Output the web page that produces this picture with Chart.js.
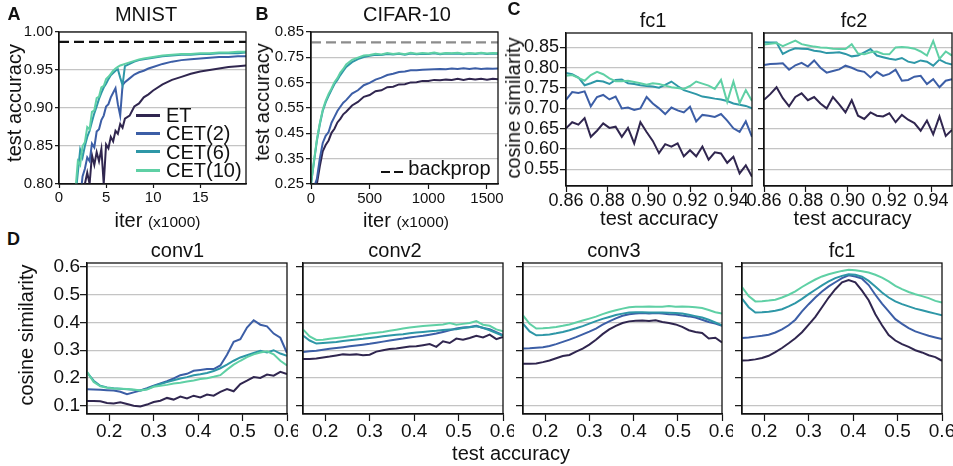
<!DOCTYPE html>
<html>
<head>
<meta charset="utf-8">
<script src="https://cdn.jsdelivr.net/npm/chart.js@4/dist/chart.umd.min.js"></script>
<style>
  html, body { margin: 0; padding: 0; background: #fff; }
  #fig { position: relative; width: 953px; height: 466px; overflow: hidden; font-family: 'Liberation Sans', Arial, sans-serif; color: #111; }
  .t { position: absolute; transform: translate(-50%, -50%); white-space: nowrap; line-height: 1; font-size: 20px; }
  .ty { position: absolute; transform: translate(-50%, -50%) rotate(-90deg); white-space: nowrap; line-height: 1; font-size: 20px; }
  .letter { font-weight: bold; font-size: 18px; }
  .leg { position: absolute; white-space: nowrap; line-height: 1; font-size: 20px; transform: translateY(-50%); }
  .swatch { position: absolute; height: 3px; }
</style>
</head>
<body>
<div id="fig"></div>
<script>
// ---- data ----
var seriesNames = ['ET', 'CET(2)', 'CET(6)', 'CET(10)'];
var seriesColors = ['#30264f', '#3c5ea6', '#2e97a7', '#5fd0a5'];

// A: MNIST, iterations (x1000)
var mnistIter = [1.8, 2.0, 2.25, 2.5, 2.75, 3.0, 3.25, 3.5, 3.75, 4.0, 4.25, 4.5, 4.75, 5.0, 5.25, 5.5, 5.75, 6.0, 6.25, 6.5, 6.75, 7.0, 7.5, 8.0, 8.5, 9.0, 9.5, 10, 11, 12, 13, 14, 15, 16, 17, 18, 19, 19.9];
var mnistET = [0.70, 0.72, 0.75, 0.77, 0.80, 0.815, 0.80, 0.838, 0.825, 0.842, 0.83, 0.846, 0.80, 0.852, 0.847, 0.862, 0.856, 0.870, 0.866, 0.879, 0.874, 0.886, 0.890, 0.902, 0.906, 0.914, 0.918, 0.923, 0.931, 0.937, 0.941, 0.945, 0.948, 0.950, 0.952, 0.954, 0.955, 0.956];
var mnistCET2 = [0.72, 0.75, 0.78, 0.81, 0.82, 0.835, 0.83, 0.853, 0.848, 0.869, 0.872, 0.884, 0.89, 0.902, 0.905, 0.914, 0.92, 0.926, 0.905, 0.89, 0.93, 0.934, 0.939, 0.944, 0.947, 0.949, 0.952, 0.954, 0.958, 0.961, 0.963, 0.964, 0.965, 0.966, 0.967, 0.967, 0.968, 0.968];
var mnistCET6 = [0.79, 0.815, 0.845, 0.835, 0.85, 0.862, 0.87, 0.882, 0.893, 0.902, 0.912, 0.92, 0.927, 0.932, 0.938, 0.943, 0.946, 0.949, 0.951, 0.94, 0.93, 0.955, 0.958, 0.961, 0.963, 0.964, 0.965, 0.966, 0.968, 0.969, 0.97, 0.97, 0.971, 0.971, 0.972, 0.972, 0.972, 0.973];
var mnistCET10 = [0.80, 0.83, 0.825, 0.85, 0.855, 0.875, 0.872, 0.895, 0.897, 0.913, 0.915, 0.927, 0.929, 0.938, 0.941, 0.945, 0.949, 0.952, 0.954, 0.956, 0.957, 0.958, 0.96, 0.962, 0.964, 0.965, 0.966, 0.967, 0.969, 0.970, 0.971, 0.971, 0.972, 0.972, 0.973, 0.973, 0.974, 0.974];
var mnistBackprop = 0.987;

// B: CIFAR-10, iterations (x1000)
var cifarIter = [0, 25, 50, 75, 100, 125, 150, 175, 200, 225, 250, 275, 300, 350, 400, 450, 500, 550, 600, 650, 700, 750, 800, 850, 900, 950, 1000, 1050, 1100, 1150, 1200, 1250, 1300, 1350, 1400, 1450, 1500, 1550, 1594];
var cifarET = [0.20, 0.22, 0.25, 0.32, 0.379, 0.404, 0.422, 0.452, 0.468, 0.493, 0.507, 0.525, 0.535, 0.560, 0.574, 0.594, 0.601, 0.616, 0.620, 0.632, 0.634, 0.643, 0.644, 0.651, 0.652, 0.657, 0.657, 0.661, 0.660, 0.662, 0.661, 0.665, 0.661, 0.665, 0.663, 0.665, 0.662, 0.665, 0.663];
var cifarCET2 = [0.22, 0.235, 0.27, 0.35, 0.412, 0.44, 0.455, 0.492, 0.515, 0.538, 0.555, 0.571, 0.581, 0.607, 0.620, 0.640, 0.649, 0.662, 0.670, 0.680, 0.685, 0.692, 0.694, 0.699, 0.699, 0.701, 0.702, 0.703, 0.704, 0.703, 0.706, 0.704, 0.707, 0.704, 0.707, 0.704, 0.706, 0.705, 0.706];
var cifarCET6 = [0.25, 0.335, 0.42, 0.485, 0.538, 0.572, 0.598, 0.622, 0.645, 0.661, 0.680, 0.696, 0.712, 0.731, 0.743, 0.751, 0.756, 0.760, 0.759, 0.763, 0.761, 0.764, 0.760, 0.765, 0.762, 0.764, 0.763, 0.766, 0.762, 0.765, 0.764, 0.765, 0.762, 0.765, 0.763, 0.766, 0.763, 0.765, 0.764];
var cifarCET10 = [0.25, 0.34, 0.425, 0.49, 0.543, 0.578, 0.606, 0.627, 0.652, 0.668, 0.690, 0.704, 0.722, 0.740, 0.749, 0.757, 0.759, 0.764, 0.761, 0.767, 0.763, 0.766, 0.762, 0.768, 0.764, 0.767, 0.765, 0.769, 0.764, 0.767, 0.766, 0.768, 0.764, 0.767, 0.765, 0.768, 0.765, 0.767, 0.766];
var cifarBackprop = 0.809;

// C: cosine similarity vs test accuracy (fc1, fc2)
var fcAcc = [0.860, 0.863, 0.866, 0.869, 0.872, 0.875, 0.878, 0.881, 0.884, 0.887, 0.890, 0.893, 0.896, 0.899, 0.902, 0.905, 0.908, 0.911, 0.914, 0.917, 0.920, 0.923, 0.926, 0.929, 0.932, 0.935, 0.938, 0.941, 0.944, 0.947, 0.950];
var fc1ET = [0.651, 0.666, 0.660, 0.676, 0.630, 0.645, 0.663, 0.652, 0.655, 0.630, 0.652, 0.614, 0.666, 0.642, 0.620, 0.590, 0.612, 0.606, 0.614, 0.582, 0.597, 0.582, 0.606, 0.574, 0.592, 0.589, 0.566, 0.581, 0.540, 0.560, 0.532];
var fc1CET2 = [0.721, 0.740, 0.738, 0.742, 0.705, 0.728, 0.733, 0.722, 0.729, 0.700, 0.702, 0.696, 0.700, 0.728, 0.712, 0.700, 0.686, 0.702, 0.695, 0.690, 0.704, 0.668, 0.684, 0.682, 0.679, 0.686, 0.670, 0.651, 0.642, 0.668, 0.630];
var fc1CET6 = [0.787, 0.784, 0.776, 0.757, 0.762, 0.768, 0.766, 0.760, 0.770, 0.771, 0.762, 0.760, 0.757, 0.755, 0.754, 0.751, 0.758, 0.766, 0.755, 0.745, 0.740, 0.735, 0.729, 0.727, 0.724, 0.722, 0.718, 0.712, 0.709, 0.706, 0.700];
var fc1CET10 = [0.780, 0.782, 0.775, 0.768, 0.782, 0.790, 0.784, 0.774, 0.767, 0.767, 0.768, 0.765, 0.762, 0.758, 0.762, 0.760, 0.756, 0.752, 0.750, 0.748, 0.755, 0.766, 0.761, 0.756, 0.748, 0.770, 0.716, 0.766, 0.713, 0.745, 0.718];
var fc2ET = [0.721, 0.735, 0.752, 0.725, 0.705, 0.728, 0.737, 0.720, 0.728, 0.712, 0.700, 0.728, 0.710, 0.690, 0.720, 0.682, 0.674, 0.690, 0.682, 0.680, 0.688, 0.666, 0.684, 0.672, 0.664, 0.645, 0.670, 0.636, 0.680, 0.632, 0.647];
var fc2CET2 = [0.807, 0.809, 0.810, 0.811, 0.795, 0.806, 0.812, 0.803, 0.818, 0.800, 0.788, 0.792, 0.796, 0.805, 0.800, 0.793, 0.790, 0.776, 0.790, 0.780, 0.785, 0.795, 0.768, 0.770, 0.778, 0.780, 0.760, 0.772, 0.752, 0.768, 0.772];
var fc2CET6 = [0.863, 0.862, 0.862, 0.834, 0.842, 0.848, 0.847, 0.846, 0.842, 0.840, 0.836, 0.837, 0.838, 0.834, 0.828, 0.830, 0.838, 0.846, 0.830, 0.826, 0.822, 0.820, 0.824, 0.815, 0.812, 0.818, 0.815, 0.805, 0.820, 0.812, 0.808];
var fc2CET10 = [0.857, 0.859, 0.861, 0.853, 0.860, 0.867, 0.858, 0.855, 0.852, 0.850, 0.849, 0.847, 0.846, 0.846, 0.858, 0.835, 0.833, 0.838, 0.840, 0.834, 0.833, 0.850, 0.851, 0.850, 0.847, 0.840, 0.830, 0.866, 0.822, 0.840, 0.830];

// D: cosine similarity vs test accuracy (conv1, conv2, conv3, fc1)
var convAcc = [0.15, 0.165, 0.18, 0.195, 0.21, 0.225, 0.24, 0.255, 0.27, 0.285, 0.30, 0.315, 0.33, 0.345, 0.36, 0.375, 0.39, 0.405, 0.42, 0.435, 0.45, 0.465, 0.48, 0.495, 0.51, 0.525, 0.54, 0.555, 0.57, 0.585, 0.60];
var conv1ET = [0.117, 0.117, 0.116, 0.110, 0.108, 0.112, 0.106, 0.100, 0.097, 0.104, 0.113, 0.118, 0.128, 0.122, 0.133, 0.126, 0.136, 0.130, 0.140, 0.136, 0.150, 0.160, 0.152, 0.178, 0.190, 0.203, 0.200, 0.212, 0.208, 0.222, 0.214];
var conv1CET2 = [0.159, 0.158, 0.157, 0.156, 0.155, 0.150, 0.141, 0.148, 0.155, 0.163, 0.172, 0.180, 0.188, 0.198, 0.210, 0.215, 0.226, 0.229, 0.232, 0.232, 0.245, 0.284, 0.330, 0.340, 0.382, 0.408, 0.392, 0.386, 0.360, 0.345, 0.290];
var conv1CET6 = [0.220, 0.190, 0.172, 0.166, 0.163, 0.161, 0.159, 0.157, 0.155, 0.160, 0.170, 0.178, 0.185, 0.192, 0.198, 0.203, 0.210, 0.213, 0.218, 0.225, 0.235, 0.248, 0.262, 0.274, 0.282, 0.290, 0.298, 0.292, 0.300, 0.288, 0.280];
var conv1CET10 = [0.222, 0.185, 0.170, 0.165, 0.162, 0.161, 0.160, 0.158, 0.155, 0.158, 0.168, 0.172, 0.175, 0.180, 0.183, 0.187, 0.191, 0.196, 0.199, 0.204, 0.210, 0.230, 0.248, 0.262, 0.275, 0.285, 0.292, 0.296, 0.285, 0.262, 0.245];
var conv2ET = [0.268, 0.268, 0.270, 0.274, 0.277, 0.281, 0.285, 0.284, 0.285, 0.282, 0.284, 0.295, 0.300, 0.304, 0.306, 0.310, 0.313, 0.314, 0.318, 0.322, 0.312, 0.332, 0.326, 0.342, 0.338, 0.344, 0.352, 0.346, 0.356, 0.340, 0.348];
var conv2CET2 = [0.294, 0.296, 0.298, 0.302, 0.305, 0.308, 0.311, 0.314, 0.317, 0.320, 0.323, 0.327, 0.331, 0.335, 0.339, 0.342, 0.346, 0.349, 0.352, 0.356, 0.360, 0.366, 0.372, 0.378, 0.382, 0.384, 0.388, 0.380, 0.376, 0.365, 0.355];
var conv2CET6 = [0.353, 0.335, 0.324, 0.326, 0.328, 0.330, 0.333, 0.336, 0.339, 0.341, 0.344, 0.347, 0.350, 0.353, 0.356, 0.358, 0.361, 0.364, 0.366, 0.368, 0.370, 0.373, 0.375, 0.376, 0.380, 0.383, 0.386, 0.381, 0.372, 0.362, 0.352];
var conv2CET10 = [0.375, 0.350, 0.337, 0.338, 0.341, 0.344, 0.347, 0.350, 0.353, 0.357, 0.360, 0.363, 0.366, 0.370, 0.374, 0.378, 0.382, 0.385, 0.387, 0.389, 0.391, 0.393, 0.398, 0.392, 0.395, 0.398, 0.405, 0.392, 0.388, 0.375, 0.368];
var conv3ET = [0.251, 0.251, 0.252, 0.257, 0.263, 0.271, 0.279, 0.283, 0.295, 0.306, 0.320, 0.338, 0.358, 0.375, 0.388, 0.398, 0.404, 0.406, 0.407, 0.405, 0.408, 0.402, 0.398, 0.393, 0.384, 0.372, 0.366, 0.362, 0.342, 0.345, 0.328];
var conv3CET2 = [0.306, 0.307, 0.309, 0.311, 0.315, 0.322, 0.330, 0.338, 0.347, 0.357, 0.367, 0.378, 0.392, 0.404, 0.415, 0.424, 0.430, 0.432, 0.434, 0.432, 0.434, 0.432, 0.430, 0.429, 0.425, 0.422, 0.418, 0.410, 0.402, 0.396, 0.388];
var conv3CET6 = [0.396, 0.368, 0.354, 0.355, 0.357, 0.361, 0.366, 0.372, 0.379, 0.387, 0.396, 0.405, 0.413, 0.420, 0.427, 0.432, 0.436, 0.437, 0.437, 0.436, 0.436, 0.436, 0.435, 0.434, 0.432, 0.428, 0.423, 0.418, 0.410, 0.400, 0.390];
var conv3CET10 = [0.426, 0.395, 0.378, 0.379, 0.381, 0.384, 0.388, 0.393, 0.400, 0.407, 0.414, 0.421, 0.430, 0.438, 0.444, 0.450, 0.455, 0.457, 0.457, 0.458, 0.457, 0.457, 0.459, 0.457, 0.458, 0.457, 0.455, 0.452, 0.445, 0.437, 0.432];
var dfc1ET = [0.263, 0.264, 0.267, 0.272, 0.280, 0.293, 0.308, 0.325, 0.343, 0.365, 0.392, 0.420, 0.455, 0.490, 0.520, 0.545, 0.553, 0.545, 0.515, 0.480, 0.430, 0.390, 0.355, 0.335, 0.322, 0.312, 0.300, 0.292, 0.282, 0.275, 0.262];
var dfc1CET2 = [0.344, 0.346, 0.349, 0.352, 0.356, 0.364, 0.375, 0.390, 0.410, 0.440, 0.466, 0.490, 0.512, 0.530, 0.545, 0.560, 0.570, 0.566, 0.558, 0.535, 0.500, 0.468, 0.440, 0.412, 0.395, 0.380, 0.368, 0.360, 0.352, 0.346, 0.340];
var dfc1CET6 = [0.486, 0.455, 0.436, 0.437, 0.439, 0.442, 0.448, 0.458, 0.470, 0.485, 0.502, 0.518, 0.534, 0.548, 0.560, 0.568, 0.574, 0.572, 0.565, 0.550, 0.530, 0.508, 0.490, 0.476, 0.466, 0.458, 0.450, 0.444, 0.438, 0.432, 0.426];
var dfc1CET10 = [0.528, 0.495, 0.476, 0.477, 0.479, 0.482, 0.490, 0.500, 0.512, 0.528, 0.542, 0.555, 0.566, 0.574, 0.580, 0.586, 0.590, 0.588, 0.585, 0.580, 0.572, 0.562, 0.548, 0.532, 0.520, 0.510, 0.502, 0.495, 0.488, 0.478, 0.472];

var FONT = "'Liberation Sans', Arial, sans-serif";
var fig = document.getElementById('fig');

function pts(xs, ys) {
  return xs.map(function(x, i) { return { x: x, y: ys[i] }; });
}

function line(xs, ys, k) {
  return { label: seriesNames[k], data: pts(xs, ys), borderColor: seriesColors[k], borderWidth: 2,
           pointRadius: 0, fill: false, tension: 0, order: 4 - k };
}

function four(xs, a, b, c, d) {
  return [line(xs, a, 0), line(xs, b, 1), line(xs, c, 2), line(xs, d, 3)];
}

function refLine(x0, x1, y, color) {
  return { data: [{ x: x0, y: y }, { x: x1, y: y }], borderColor: color, borderWidth: 2.3,
           borderDash: [10, 5], pointRadius: 0, fill: false, order: 0 };
}

// box around the plot area
var framePlugin = {
  id: 'frame',
  afterDraw: function(chart) {
    var a = chart.chartArea, ctx = chart.ctx;
    ctx.save();
    ctx.strokeStyle = '#111';
    ctx.lineWidth = 1.3;
    ctx.strokeRect(a.left, a.top, a.right - a.left, a.bottom - a.top);
    ctx.restore();
  }
};

function panel(o) {
  var padL = o.padL || 0;
  var cv = document.createElement('canvas');
  var W = padL + o.yW + o.w + o.padR, H = o.padT + o.h + o.xH;
  cv.width = W; cv.height = H;
  cv.style.position = 'absolute';
  cv.style.left = (o.left - o.yW - padL) + 'px';
  cv.style.top = (o.top - o.padT) + 'px';
  cv.style.width = W + 'px';
  cv.style.height = H + 'px';
  fig.appendChild(cv);

  new Chart(cv, {
    type: 'line',
    data: { datasets: o.series },
    options: {
      responsive: false, animation: false, devicePixelRatio: 1,
      layout: { padding: { top: o.padT, right: o.padR, left: padL, bottom: 0 } },
      plugins: { legend: { display: false }, tooltip: { enabled: false } },
      scales: {
        x: {
          type: 'linear', min: o.xMin, max: o.xMax,
          afterBuildTicks: function(s) { s.ticks = o.xTicks.map(function(v) { return { value: v }; }); },
          afterFit: function(s) { s.height = o.xH; s.paddingLeft = 0; s.paddingRight = 0; },
          grid: { drawOnChartArea: false, tickLength: o.tl, tickColor: '#111', tickWidth: 1.2 },
          border: { color: '#111', width: 1.3 },
          ticks: { font: { family: FONT, size: o.fs, lineHeight: 1 }, color: '#111', padding: o.tp, maxRotation: 0,
                   autoSkip: false, callback: function(v) { return o.fx(v); } }
        },
        y: {
          min: o.yMin, max: o.yMax,
          afterBuildTicks: function(s) { s.ticks = o.yTicks.map(function(v) { return { value: v }; }); },
          afterFit: function(s) { s.width = o.yW; s.paddingTop = 0; s.paddingBottom = 0; },
          grid: { color: '#c4c4c4', lineWidth: 1.3, tickLength: o.tl, tickColor: '#111', tickWidth: 1.2 },
          border: { color: '#111', width: 1.3 },
          ticks: { display: o.showY, font: { family: FONT, size: o.fs, lineHeight: 1 }, color: '#111', padding: o.yp,
                   autoSkip: false, callback: function(v) { return o.fy(v); } }
        }
      }
    },
    plugins: [framePlugin]
  });
}

function f2(v) { return v.toFixed(2); }
function f1(v) { return v.toFixed(1); }
function f0(v) { return String(v); }

// A
panel({ left: 59, top: 32, w: 187, h: 152, yW: 52, padT: 12, padR: 14, xH: 30, fs: 15, tl: 4, tp: 2, yp: 2,
  xMin: 0, xMax: 19.86, xTicks: [0, 5, 10, 15], fx: f0,
  yMin: 0.8, yMax: 1.0, yTicks: [0.8, 0.85, 0.9, 0.95, 1.0], fy: f2, showY: true,
  series: four(mnistIter, mnistET, mnistCET2, mnistCET6, mnistCET10).concat([refLine(0, 19.86, mnistBackprop, '#111')]) });

// B
panel({ left: 311, top: 32, w: 187, h: 152, yW: 52, padT: 12, padR: 16, xH: 30, fs: 15, tl: 5, tp: 2, yp: 2,
  xMin: 0, xMax: 1594, xTicks: [0, 500, 1000, 1500], fx: f0,
  yMin: 0.25, yMax: 0.85, yTicks: [0.25, 0.35, 0.45, 0.55, 0.65, 0.75, 0.85], fy: f2, showY: true,
  series: four(cifarIter, cifarET, cifarCET2, cifarCET6, cifarCET10).concat([refLine(0, 1594, cifarBackprop, '#8c8c8c')]) });

// C
panel({ left: 566, top: 33, w: 186, h: 153, yW: 50, padT: 12, padR: 10, xH: 30, fs: 18, tl: 6, tp: 0.5, yp: 1,
  xMin: 0.86, xMax: 0.95, xTicks: [0.86, 0.88, 0.90, 0.92, 0.94], fx: f2,
  yMin: 0.509, yMax: 0.8855, yTicks: [0.55, 0.60, 0.65, 0.70, 0.75, 0.80, 0.85], fy: f2, showY: true,
  series: four(fcAcc, fc1ET, fc1CET2, fc1CET6, fc1CET10) });
panel({ left: 764, top: 33, w: 188, h: 153, yW: 8, padL: 16, padT: 12, padR: 1, xH: 30, fs: 18, tl: 6, tp: 0.5, yp: 1,
  xMin: 0.86, xMax: 0.95, xTicks: [0.86, 0.88, 0.90, 0.92, 0.94], fx: f2,
  yMin: 0.509, yMax: 0.8855, yTicks: [0.55, 0.60, 0.65, 0.70, 0.75, 0.80, 0.85], fy: f2, showY: false,
  series: four(fcAcc, fc2ET, fc2CET2, fc2CET6, fc2CET10) });

// D
var dy = { yMin: 0.07, yMax: 0.6145, yTicks: [0.1, 0.2, 0.3, 0.4, 0.5, 0.6], fy: f1,
           xMin: 0.15, xMax: 0.6, xTicks: [0.2, 0.3, 0.4, 0.5, 0.6], fx: f1 };
function dPanel(left, w, showY, series) {
  panel(Object.assign({ left: left, top: 263, w: w, h: 151, yW: showY ? 60 : 9, padT: 12, padR: 11, xH: 32,
    fs: 19, tl: 7, tp: 1, yp: 0, showY: showY, series: series }, dy));
}
dPanel(87, 200, true, four(convAcc, conv1ET, conv1CET2, conv1CET6, conv1CET10));
dPanel(303, 200, false, four(convAcc, conv2ET, conv2CET2, conv2CET6, conv2CET10));
dPanel(523, 199, false, four(convAcc, conv3ET, conv3CET2, conv3CET6, conv3CET10));
dPanel(742, 200, false, four(convAcc, dfc1ET, dfc1CET2, dfc1CET6, dfc1CET10));

// ---- text ----
function text(cls, html, x, y, extra) {
  var d = document.createElement('div');
  d.className = cls;
  d.innerHTML = html;
  d.style.left = x + 'px';
  d.style.top = y + 'px';
  if (extra) d.style.cssText += extra;
  fig.appendChild(d);
}
text('t letter', 'A', 14, 14);
text('t letter', 'B', 262, 14);
text('t letter', 'C', 514, 9);
text('t letter', 'D', 13.5, 238.5);

text('t', 'MNIST', 146, 14);
text('t', 'CIFAR-10', 407, 14);
text('t', 'fc1', 653, 20);
text('t', 'fc2', 854, 20);
text('t', 'conv1', 177.5, 249.5);
text('t', 'conv2', 395, 249.5);
text('t', 'conv3', 614, 249.5);
text('t', 'fc1', 842, 249.5);

var iterLabel = 'iter <span style="font-size:15.5px">(x1000)</span>';
text('t', iterLabel, 157.5, 219.5);
text('t', iterLabel, 406, 219.5);
text('t', 'test accuracy', 659, 217.5);
text('t', 'test accuracy', 852.5, 217.5);
text('t', 'test accuracy', 511, 453);
text('ty', 'test accuracy', 13.5, 103);
text('ty', 'test accuracy', 261.5, 101.7);
text('ty', 'cosine similarity', 513, 108);
text('ty', 'cosine similarity', 26, 335);

// legend of panel A
var legY = [115, 133.3, 151.7, 170];
for (var k = 0; k < 4; k++) {
  var sw = document.createElement('div');
  sw.className = 'swatch';
  sw.style.cssText += 'left:136px;width:24px;top:' + (legY[k] - 1.5) + 'px;background:' + seriesColors[k] + ';';
  fig.appendChild(sw);
  text('leg', seriesNames[k], 166, legY[k]);
}
// backprop key in panel B
[380.7, 394].forEach(function(x) {
  var d = document.createElement('div');
  d.className = 'swatch';
  d.style.cssText += 'left:' + x + 'px;width:9.3px;height:2px;top:171.3px;background:#111;';
  fig.appendChild(d);
});
text('leg', 'backprop', 408.3, 167.5);
</script>
</body>
</html>
